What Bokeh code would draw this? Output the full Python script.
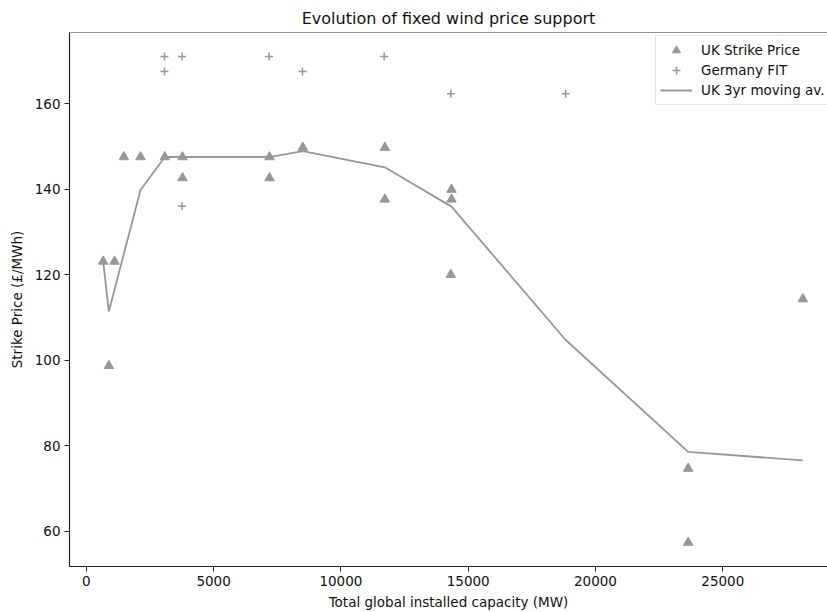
from bokeh.plotting import figure
from bokeh.models import Span, FixedTicker, Range1d
from bokeh.embed import file_html
from bokeh.resources import INLINE

# UK strike price points
uk_x = [663, 885, 1108, 1473, 2129, 3083, 3778, 3778, 7196, 7196, 8504,
        11725, 11725, 14344, 14344, 14317, 23641, 23641, 28143]
uk_y = [123.1, 98.7, 123.1, 147.5, 147.5, 147.5, 147.5, 142.6, 147.5, 142.6, 149.7,
        149.7, 137.6, 139.9, 137.6, 120.0, 74.7, 57.4, 114.3]

# Germany FIT points
de_x = [3070, 3070, 3760, 3760, 7180, 8490, 11700, 14320, 18830]
de_y = [171.0, 167.5, 171.0, 136.0, 171.0, 167.5, 171.0, 162.3, 162.3]

# UK 3yr moving average
ma_x = [663, 885, 2129, 3083, 3778, 7196, 8504, 11725, 14344, 18822, 23641, 28143]
ma_y = [123.1, 111.4, 139.8, 147.5, 147.5, 147.5, 148.9, 145.1, 135.9, 104.8, 78.6, 76.6]

x_ticks = [0, 5000, 10000, 15000, 20000, 25000]
y_ticks = [60, 80, 100, 120, 140, 160]

FONT = "DejaVu Sans"
GREY = "#979797"

p = figure(width=827, height=612, output_backend="svg", toolbar_location=None,
           x_range=Range1d(-660, 29113), y_range=Range1d(51.8, 176.6),
           min_border_left=69, min_border_right=0, min_border_top=32, min_border_bottom=45,
           title="Evolution of fixed wind price support")

p.title.text_font = FONT
p.title.text_font_size = "16px"
p.title.text_font_style = "normal"
p.title.align = "center"
p.title.text_color = "#111111"
p.title.standoff = 9

p.xgrid.visible = False
p.ygrid.visible = False
p.outline_line_color = None
p.background_fill_color = "white"

for ax in (p.xaxis, p.yaxis):
    ax.axis_line_color = "#222222"
    ax.axis_line_width = 1.2
    ax.major_tick_line_color = "#222222"
    ax.major_tick_out = 5
    ax.major_tick_in = 0
    ax.minor_tick_line_color = None
    ax.major_label_text_font = FONT
    ax.major_label_text_font_size = "13.5px"
    ax.major_label_text_color = "#111111"
    ax.axis_label_text_font = FONT
    ax.axis_label_text_font_size = "13.5px"
    ax.axis_label_text_font_style = "normal"
    ax.axis_label_text_color = "#111111"

p.xaxis.ticker = FixedTicker(ticks=x_ticks)
p.yaxis.ticker = FixedTicker(ticks=y_ticks)
p.xaxis.axis_label = "Total global installed capacity (MW)"
p.yaxis.axis_label = "Strike Price (£/MWh)"
p.xaxis.major_label_standoff = 4
p.xaxis.axis_label_standoff = 5
p.yaxis.major_label_standoff = 4
p.yaxis.axis_label_standoff = 7

p.add_layout(Span(location=176.6, dimension="width", line_color="#222222", line_width=1.2))

p.scatter(uk_x, uk_y, marker="triangle", size=9.5, color=GREY, legend_label="UK Strike Price")
p.scatter(de_x, de_y, marker="cross", size=8, line_width=1.5, color=GREY, legend_label="Germany FIT")
p.line(ma_x, ma_y, line_width=1.8, color=GREY, legend_label="UK 3yr moving av.")

lg = p.legend[0]
lg.location = (586, 461)
lg.label_text_font = FONT
lg.label_text_font_size = "13.5px"
lg.label_text_color = "#111111"
lg.glyph_width = 32
lg.glyph_height = 20
lg.label_height = 20
lg.label_standoff = 9
lg.spacing = 0
lg.padding = 4
lg.margin = 0
lg.border_line_color = "#cccccc"
lg.border_line_width = 1
lg.background_fill_alpha = 0.8

open("out.html", "w").write(file_html(p, INLINE))
